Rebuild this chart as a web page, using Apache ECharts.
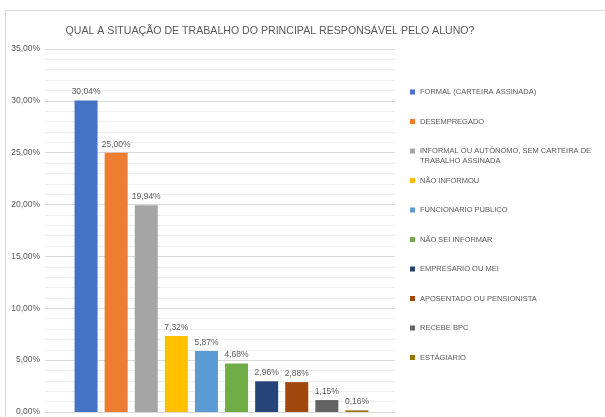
<!DOCTYPE html>
<html>
<head>
<meta charset="utf-8">
<script src="https://cdn.jsdelivr.net/npm/echarts@6/dist/echarts.min.js"></script>
<style>
    html, body { margin: 0; padding: 0; background: #fff; }
    #chart { width: 605px; height: 417px; }
</style>
</head>
<body>
<div id="chart"></div>
<script>
var categories = ["FORMAL (CARTEIRA ASSINADA)", "DESEMPREGADO", "INFORMAL OU AUTÔNOMO, SEM CARTEIRA DE TRABALHO ASSINADA",
    "NÃO INFORMOU", "FUNCIONARIO PUBLICO", "NÃO SEI INFORMAR", "EMPRESARIO OU MEI",
    "APOSENTADO OU PENSIONISTA", "RECEBE BPC", "ESTÁGIARIO"];
var values = [30.04, 25.00, 19.94, 7.32, 5.87, 4.68, 2.96, 2.88, 1.15, 0.16];
var colors = ["#4472C4", "#ED7D31", "#A5A5A5", "#FFC000", "#5B9BD5", "#70AD47", "#264478", "#9E480E", "#636363", "#997300"];
var yTicks = [0, 5, 10, 15, 20, 25, 30, 35];

var fontName = "'Liberation Sans', sans-serif";
var textColor = "#595959";

function pct(v) {
    return v.toFixed(2).replace(".", ",") + "%";
}

var myChart = echarts.init(document.getElementById("chart"));

var series = [];
var legends = [];
for (var i = 0; i < categories.length; i++) {
    var d = [];
    for (var j = 0; j < categories.length; j++) {
        d.push(j == i ? values[i] : null);
    }
    series.push({
        name: categories[i],
        type: "bar",
        stack: "total",
        xAxisIndex: 1,
        yAxisIndex: 1,
        barWidth: 23,
        data: d,
        itemStyle: { color: colors[i] },
        label: {
            show: true,
            position: "top",
            distance: 4,
            color: textColor,
            fontSize: 8.5,
            fontFamily: fontName,
            formatter: function (p) { return pct(p.value); }
        }
    });
    // legenda separada para cada item, espaçamento igual como no Excel
    var twoLines = categories[i].length > 40;
    var center = 92 + i * 29.5;
    legends.push({
        left: 410,
        top: twoLines ? center - 15 : center - 5,
        padding: 0,
        orient: "vertical",
        icon: "rect",
        itemWidth: 5,
        itemHeight: 5,
        selectedMode: false,
        data: [categories[i]],
        formatter: function (name) {
            // linha vazia antes para o ícone ficar na primeira linha
            return name.length > 40 ? "\n" + name.replace(" DE TRABALHO", " DE\nTRABALHO") : name;
        },
        textStyle: {
            color: textColor,
            fontSize: 7.5,
            fontFamily: fontName,
            lineHeight: 10
        }
    });
}

var option = {
    animation: false,
    color: colors,
    title: {
        text: "QUAL A SITUAÇÃO DE TRABALHO DO PRINCIPAL RESPONSÁVEL PELO ALUNO?",
        left: 265,
        textAlign: "center",
        top: 21,
        textStyle: {
            color: textColor,
            fontSize: 10.6,
            fontWeight: "normal",
            fontFamily: fontName
        }
    },
    legend: legends,
    graphic: [{
        type: "rect",
        shape: { x: 5.5, y: 10.5, width: 640, height: 440 },
        style: { fill: "none", stroke: "#d9d9d9", lineWidth: 1 },
        silent: true
    }],
    grid: [
        { left: 45, right: 210, top: 49, bottom: 5 },
        { left: 71, right: 233, top: 49, bottom: 5 }
    ],
    xAxis: [{
        gridIndex: 0,
        type: "value",
        show: false
    }, {
        gridIndex: 1,
        type: "category",
        data: categories,
        axisLine: { show: false },
        axisTick: { show: false },
        axisLabel: { show: false }
    }],
    yAxis: [{
        gridIndex: 0,
        type: "value",
        min: yTicks[0],
        max: yTicks[yTicks.length - 1],
        interval: 5,
        axisLine: { show: false },
        axisTick: { show: false },
        axisLabel: {
            color: textColor,
            fontSize: 8.5,
            fontFamily: fontName,
            margin: 5,
            formatter: function (v) { return pct(v); }
        },
        splitLine: { lineStyle: { color: "#d9d9d9", width: 1 } },
        minorTick: { show: false, splitNumber: 5 },
        minorSplitLine: { show: true, lineStyle: { color: "#f0f0f0", width: 1 } }
    }, {
        gridIndex: 1,
        type: "value",
        min: yTicks[0],
        max: yTicks[yTicks.length - 1],
        interval: 5,
        show: false,
        splitLine: { show: false }
    }],
    series: series
};
myChart.setOption(option);
</script>
</body>
</html>
